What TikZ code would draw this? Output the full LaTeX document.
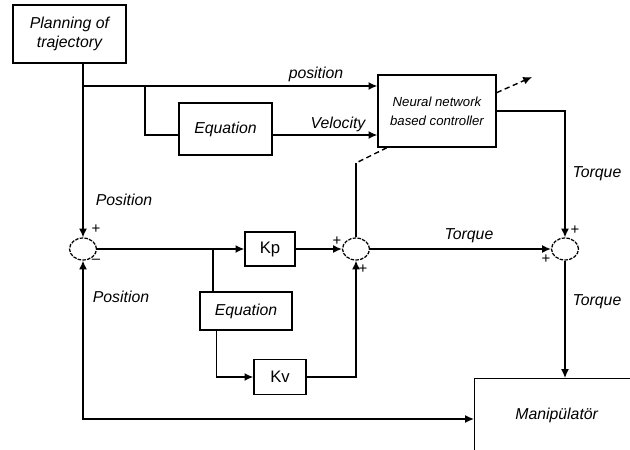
\documentclass[tikz,border=0pt]{standalone}
\usepackage{fontspec}
\setsansfont{Liberation Sans}
\usetikzlibrary{arrows.meta, calc, positioning, shapes.geometric}

\tikzset{
	block/.style={draw, rectangle, align=center, inner sep=2pt, font=\fontsize{9}{11}\selectfont\itshape},
	gain/.style={draw, rectangle, inner sep=2pt, font=\fontsize{9.5}{11}\selectfont},
	sumjunct/.style={draw, ellipse, dash pattern=on 2pt off 0.7pt, line width=0.7pt, minimum width=0.54cm, minimum height=0.44cm, inner sep=0pt},
	lbl/.style={font=\fontsize{9}{11}\selectfont\itshape},
	sgn/.style={inner sep=0pt, font=\fontsize{8.5}{9}\selectfont}
}

\begin{document}
\begin{tikzpicture}[x=0.02cm, y=-0.02cm, line width=0.8pt, >={Latex[length=5pt,width=4.5pt]}]
	\sffamily
	\useasboundingbox (0,0) rectangle (630,450);
	\clip (0,0) rectangle (630,450);

	\node[block, minimum width=2.26cm, minimum height=1.16cm] (plan) at (69.5,34) {Planning of\\trajectory};
	\node[block, minimum width=1.86cm, minimum height=1.04cm] (eqvel) at (225.5,129) {Equation};
	\node[block, minimum width=2.36cm, minimum height=1.44cm, font=\fontsize{7.5}{11}\selectfont\itshape] (nn) at (437,111) {Neural network\\based controller};

	\node[sumjunct] (sum1) at (83,249) {};
	\node[sumjunct] (sum2) at (356,249) {};
	\node[sumjunct] (sum3) at (565,249) {};

	\node[gain, minimum width=1.0cm, minimum height=0.68cm] (kp) at (270,249) {Kp};
	\node[block, minimum width=1.84cm, minimum height=0.76cm] (eqpos) at (246,311) {Equation};
	\node[gain, minimum width=1.04cm, minimum height=0.7cm] (kv) at (280,377) {Kv};
	\node[block, anchor=north west, minimum width=3.28cm, text height=0.75cm, text depth=1.5cm] (manip) at (474,378) {Manipülatör};

	\coordinate (split1) at (83,86);
	\coordinate (split2) at (145,86);
	\coordinate (split3) at (213,249);
	\coordinate (velin) at ($(eqvel.west)+(0,6)$);
	\coordinate (velout) at ($(eqvel.east)+(0,6)$);
	\coordinate (nnup) at (532,77);
	\coordinate (nnlow) at (356,163);
	\coordinate (fb) at ($(manip.north west)+(0,41)$);

	\draw[->] (plan.south -| sum1) -- (sum1);
	\draw[->] (split1) -- (split1 -| nn.west);
	\draw (split2) |- (velin);
	\draw[->] (velout) -- (velout -| nn.west);
	\draw[->] (nn.east) -| (sum3);
	\draw[->, densely dashed] ($(nn.north east)!0.25!(nn.south east)$) -- (nnup);
	\draw[densely dashed] ($(nn.south west)!0.08!(nn.south east)$) -- (nnlow);
	\draw (nnlow) -- (sum2);

	\draw[->] (sum1) -- (kp);
	\draw (split3) -- (split3 |- eqpos.north);
	\draw[->] ($(eqpos.south west)+(17,0)$) |- (kv);
	\draw[->] (kp) -- (sum2);
	\draw[->] (kv) -| (sum2);
	\draw[->] (sum2) -- (sum3);
	\draw[->] (sum3) -- (sum3 |- manip.north);
	\draw[<->] (sum1) |- (fb);

	\node[lbl] (lposa) at (316,74) {position};
	\node[lbl] (lvel) at (338,124) {Velocity};
	\node[lbl] (lposb) at (124,200) {Position};
	\node[lbl] (lposc) at (121,297) {Position};
	\node[lbl] (ltqa) at (597,174) {Torque};
	\node[lbl] (ltqb) at (469,236) {Torque};
	\node[lbl] (ltqc) at (597,302) {Torque};

	\node[sgn] (s1a) at (96,229) {+};
	\node[sgn] (s1b) at (96,261) {--};
	\node[sgn] (s2a) at (337,241) {+};
	\node[sgn] (s2b) at (363,269) {+};
	\node[sgn] (s3a) at (575,230) {+};
	\node[sgn] (s3b) at (546,259) {+};
\end{tikzpicture}
\end{document}
